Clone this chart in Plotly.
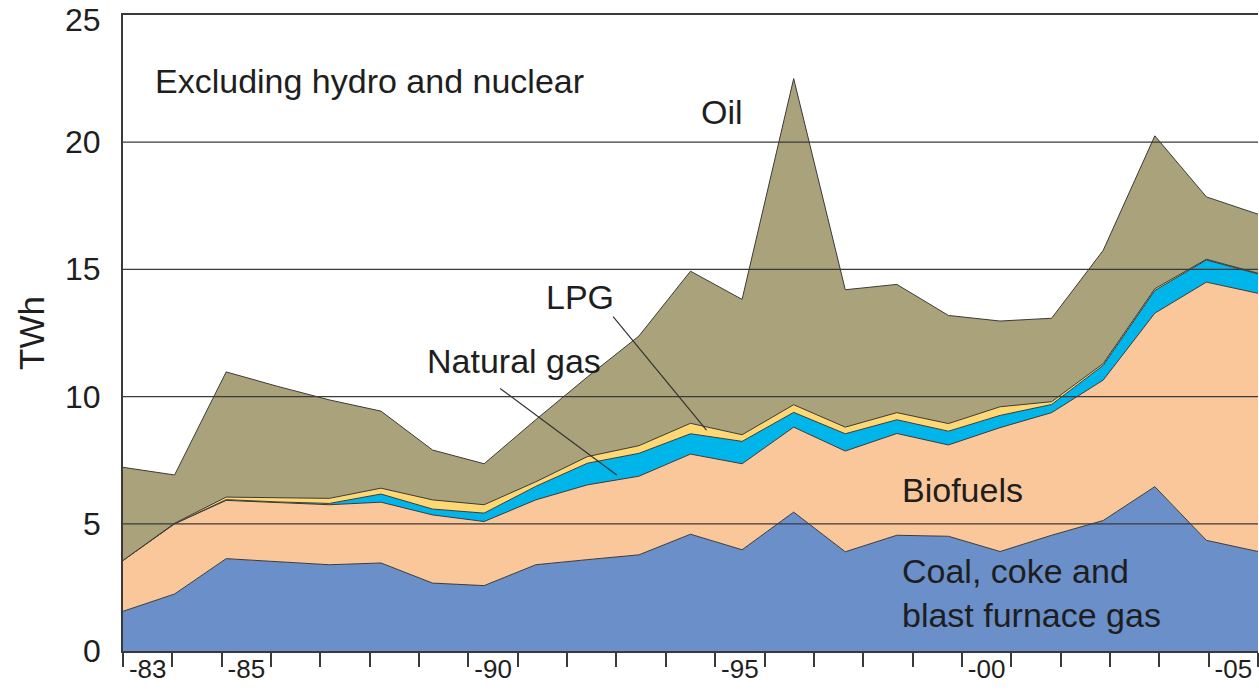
import plotly.graph_objects as go

years = list(range(1983, 2006))
coal = [1.56, 2.24, 3.63, 3.52, 3.39, 3.46, 2.67, 2.57, 3.39, 3.59, 3.78, 4.59,
        3.98, 5.46, 3.90, 4.55, 4.51, 3.91, 4.55, 5.13, 6.46, 4.35, 3.91]
biofuels = [2.00, 2.76, 2.29, 2.32, 2.36, 2.39, 2.68, 2.52, 2.55, 2.94, 3.09, 3.15,
            3.38, 3.34, 3.96, 4.00, 3.59, 4.87, 4.82, 5.52, 6.82, 10.15, 10.15]
natural_gas = [0.0, 0.0, 0.03, 0.02, 0.05, 0.32, 0.23, 0.33, 0.53, 0.85, 0.90, 0.80,
               0.88, 0.58, 0.68, 0.54, 0.54, 0.48, 0.32, 0.58, 0.89, 0.87, 0.76]
lpg = [0.0, 0.02, 0.10, 0.17, 0.20, 0.23, 0.36, 0.33, 0.18, 0.26, 0.30, 0.41,
       0.26, 0.30, 0.26, 0.28, 0.30, 0.34, 0.11, 0.07, 0.07, 0.03, 0.03]
oil = [3.66, 1.90, 4.92, 4.37, 3.87, 3.03, 1.96, 1.61, 2.44, 3.13, 4.31, 5.98,
       5.32, 12.82, 5.40, 5.04, 4.25, 3.37, 3.28, 4.45, 6.01, 2.45, 2.32]

label_years = [1983, 1985, 1990, 1995, 2000, 2005]
label_text = ["-83", "-85", "-90", "-95", "-00", "-05"]
y_ticks = [0, 5, 10, 15, 20, 25]

series = [
    ("Coal, coke and blast furnace gas", coal, "#6A8FC9"),
    ("Biofuels", biofuels, "#FAC79A"),
    ("Natural gas", natural_gas, "#00B5EA"),
    ("LPG", lpg, "#FFD874"),
    ("Oil", oil, "#A9A27A"),
]

fig = go.Figure()
for name, vals, col in series:
    fig.add_trace(go.Scatter(
        x=years, y=vals, name=name, stackgroup="one", mode="lines",
        line=dict(color="#3a3a3a", width=1), fillcolor=col,
        hoverinfo="x+y+name",
    ))

x0, x1 = years[0], years[-1]
n_slots = len(years)
step = (x1 - x0) / n_slots
label_pos = [x0 + (years.index(y) + 0.5) * step for y in label_years]

font_fam = "Liberation Sans, Arial, Helvetica, sans-serif"
txt = "#1e1e1e"

fig.update_layout(
    width=1259, height=695,
    margin=dict(l=123, r=1, t=15, b=44, autoexpand=False),
    paper_bgcolor="white", plot_bgcolor="white",
    showlegend=False,
    font=dict(family=font_fam, color=txt),
    xaxis=dict(
        range=[x0, x1], tickmode="array", tickvals=label_pos, ticktext=label_text,
        ticks="", tickfont=dict(size=26, color=txt), automargin=False,
        ticklabelstandoff=-6, ticklabeloverflow="allow",
        showgrid=False, zeroline=False, showline=True, linecolor="#3a3a3a",
        linewidth=2, mirror=True,
        minor=dict(tickmode="linear", tick0=x0, dtick=step, ticks="outside",
                   ticklen=14, tickwidth=2, tickcolor="#3a3a3a", showgrid=False),
    ),
    yaxis=dict(
        range=[0, 25], tickmode="array", tickvals=y_ticks, showticklabels=False,
        ticks="", showgrid=False, zeroline=False,
        showline=True, linecolor="#3a3a3a", linewidth=2, automargin=False,
        title=dict(text="TWh", font=dict(size=35, color=txt), standoff=66),
    ),
)

# y-axis value labels
for v in y_ticks:
    fig.add_annotation(text=str(v), xref="paper", yref="y", x=0, y=v,
                       xanchor="right", yanchor="middle", xshift=-20,
                       yshift=-5 if v == y_ticks[-1] else 0,
                       showarrow=False, font=dict(size=32, color=txt))

for v in y_ticks[1:-1]:
    fig.add_shape(type="line", xref="paper", yref="y", x0=0, x1=1, y0=v, y1=v,
                  line=dict(color="#3a3a3a", width=1.2), layer="above")

# leader lines
fig.add_shape(type="line", xref="x", yref="y", x0=1992.50, y0=13.14, x1=1994.31, y1=8.68,
              line=dict(color="#333333", width=1.2), layer="above")
fig.add_shape(type="line", xref="x", yref="y", x0=1990.31, y0=10.32, x1=1992.57, y1=6.92,
              line=dict(color="#333333", width=1.2), layer="above")

ann = dict(showarrow=False, font=dict(size=34, color=txt), xref="x", yref="y")
fig.add_annotation(text="Excluding hydro and nuclear", x=1983.58, y=22.4, xanchor="left", **ann)
fig.add_annotation(text="Oil", x=1994.61, y=21.18, xanchor="center", **ann)
fig.add_annotation(text="LPG", x=1991.86, y=13.91, xanchor="center", **ann)
fig.add_annotation(text="Natural gas", x=1990.58, y=11.39, xanchor="center", **ann)
fig.add_annotation(text="Biofuels", x=1998.06, y=6.33, xanchor="left", **ann)
fig.add_annotation(text="Coal, coke and<br>blast furnace gas", x=1998.06, y=2.28,
                   xanchor="left", align="left", **ann)

fig.write_html(
    "out.html",
    config={"displayModeBar": False},
    post_script="document.body.style.margin='0';document.body.style.overflow='hidden';",
)
